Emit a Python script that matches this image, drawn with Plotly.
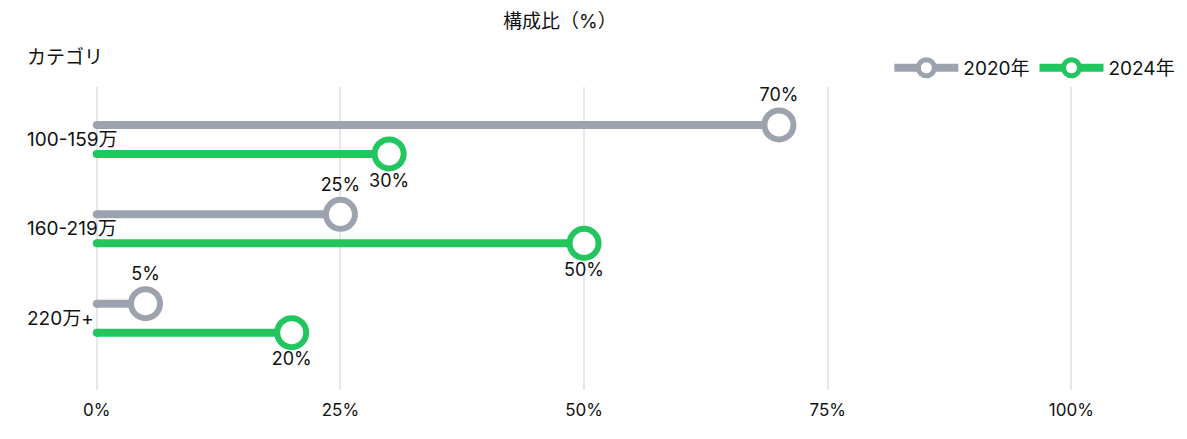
import plotly.graph_objects as go

# data
categories = ["100-159万", "160-219万", "220万+"]
years = ["2020年", "2024年"]
share_2020 = [70, 25, 5]
share_2024 = [30, 50, 20]
x_ticks = [0, 25, 50, 75, 100]
x_tick_labels = ["0%", "25%", "50%", "75%", "100%"]

GRAY = "#9ca3af"
GREEN = "#22c55e"
FONT = "Inter, Noto Sans CJK JP"
OFF = 0.162  # offset of each series from the category centre (y units)

fig = go.Figure()

series = [
    (years[0], share_2020, GRAY, -OFF, "top center"),
    (years[1], share_2024, GREEN, OFF, "bottom center"),
]

for name, vals, color, off, tpos in series:
    for i, v in enumerate(vals):
        y = i + off
        # stem
        fig.add_trace(go.Scatter(
            x=[0, v], y=[y, y], mode="lines",
            line=dict(color=color, width=8),
            showlegend=False, hoverinfo="skip",
        ))
        # rounded start of the stem
        fig.add_trace(go.Scatter(
            x=[0], y=[y], mode="markers",
            marker=dict(color=color, size=8, line=dict(width=0)),
            showlegend=False, hoverinfo="skip", cliponaxis=False,
        ))
    # heads with labels
    fig.add_trace(go.Scatter(
        x=vals, y=[i + off for i in range(len(vals))],
        mode="markers+text",
        marker=dict(size=29, color="white", line=dict(color=color, width=6)),
        text=[f"{v}%" for v in vals], textposition=tpos,
        textfont=dict(size=18, color="#111111", family=FONT),
        showlegend=False, cliponaxis=False,
    ))
    # legend entry
    fig.add_trace(go.Scatter(
        x=[None], y=[None], mode="lines+markers", name=name,
        line=dict(color=color, width=8),
        marker=dict(size=16, color="white", line=dict(color=color, width=5)),
    ))

# category labels, left aligned
for i, c in enumerate(categories):
    fig.add_annotation(
        x=-0.06, xref="paper", y=i, yref="y", text=c, showarrow=False,
        xanchor="left", yanchor="middle",
        font=dict(size=19, color="#111111", family=FONT),
    )

fig.add_annotation(
    x=-0.06, xref="paper", y=1.096, yref="paper", text="カテゴリ", showarrow=False,
    xanchor="left", yanchor="middle",
    font=dict(size=19, color="#111111", family=FONT),
)
fig.add_annotation(
    x=0.44, xref="paper", y=1.215, yref="paper", yanchor="middle",
    text="構成比（%）", showarrow=False,
    font=dict(size=19, color="#111111", family=FONT),
)

# page body adds 8px, so margins are shifted by that
fig.update_layout(
    width=1187, height=439,
    margin=dict(l=81, r=35, t=79, b=57, autoexpand=False),
    paper_bgcolor="white", plot_bgcolor="white",
    font=dict(family=FONT, color="#111111"),
    legend=dict(
        orientation="h", x=1.019, xanchor="right", y=1.063, yanchor="middle",
        font=dict(size=19, family=FONT), itemwidth=64,
    ),
    xaxis=dict(
        range=[-0.8, 109.1], tickvals=x_ticks, ticktext=x_tick_labels,
        showgrid=True, gridcolor="#e5e7eb", gridwidth=1.5,
        zeroline=False, showline=False,
        tickfont=dict(size=17, family=FONT), ticklabelstandoff=8,
    ),
    yaxis=dict(
        range=[2.804, -0.587], showgrid=False, zeroline=False,
        showticklabels=False, showline=False,
    ),
)

fig.write_html("out.html")
